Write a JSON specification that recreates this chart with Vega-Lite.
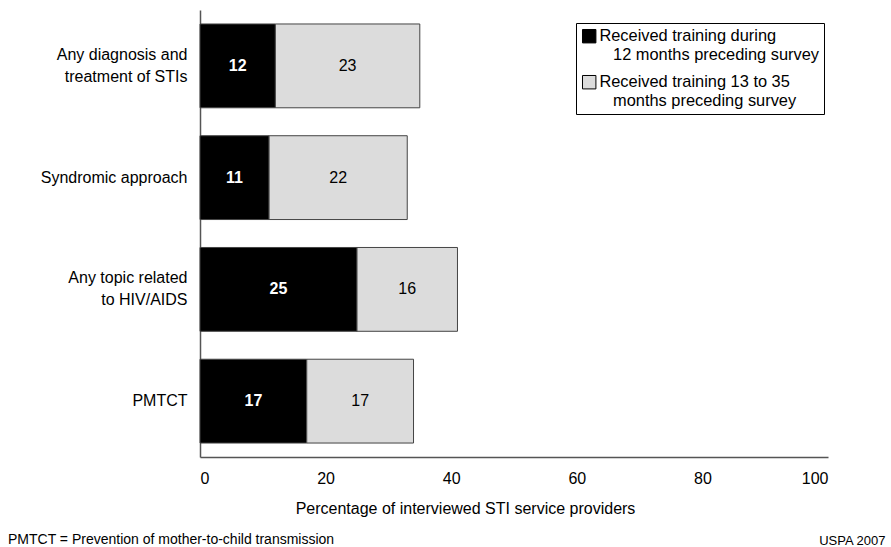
{
  "$schema": "https://vega.github.io/schema/vega-lite/v6.json",
  "width": 628,
  "height": 447,
  "autosize": {"type": "none"},
  "padding": {"left": 200, "top": 10, "right": 63, "bottom": 90},
  "background": "white",
  "config": {
    "font": "Liberation Sans",
    "view": {"stroke": null},
    "axis": {"labelFont": "Liberation Sans", "titleFont": "Liberation Sans", "labelColor": "#000", "titleColor": "#000", "labelFontSize": 16, "titleFontSize": 16, "titleFontWeight": "normal", "domainColor": "#555", "domainWidth": 1.5, "ticks": false, "grid": false}
  },
  "title": {
    "text": "PMTCT = Prevention of mother-to-child transmission",
    "orient": "bottom",
    "anchor": "start",
    "frame": "group",
    "dx": -192,
    "offset": -14,
    "fontSize": 14,
    "fontWeight": "normal",
    "font": "Liberation Sans",
    "color": "#000"
  },
  "data": {
    "values": [
      {"cat": "Any diagnosis and|treatment of STIs", "series": "Received training during|\u200b\u00a0\u00a0\u00a012 months preceding survey", "value": 12},
      {"cat": "Any diagnosis and|treatment of STIs", "series": "Received training 13 to 35|\u200b\u00a0\u00a0\u00a0months preceding survey", "value": 23},
      {"cat": "Syndromic approach", "series": "Received training during|\u200b\u00a0\u00a0\u00a012 months preceding survey", "value": 11},
      {"cat": "Syndromic approach", "series": "Received training 13 to 35|\u200b\u00a0\u00a0\u00a0months preceding survey", "value": 22},
      {"cat": "Any topic related|to HIV/AIDS", "series": "Received training during|\u200b\u00a0\u00a0\u00a012 months preceding survey", "value": 25},
      {"cat": "Any topic related|to HIV/AIDS", "series": "Received training 13 to 35|\u200b\u00a0\u00a0\u00a0months preceding survey", "value": 16},
      {"cat": "PMTCT", "series": "Received training during|\u200b\u00a0\u00a0\u00a012 months preceding survey", "value": 17},
      {"cat": "PMTCT", "series": "Received training 13 to 35|\u200b\u00a0\u00a0\u00a0months preceding survey", "value": 17}
    ]
  },
  "encoding": {
    "y": {
      "field": "cat",
      "type": "nominal",
      "sort": null,
      "scale": {"paddingInner": 0.25, "paddingOuter": 0.125},
      "axis": {
        "labelExpr": "split(datum.label, '|')",
        "labelPadding": 13,
        "labelLineHeight": 22,
        "labelLimit": 300,
        "labelOffset": {"condition": {"test": "indexof(datum.label, '|') >= 0", "value": -11}, "value": 0},
        "title": "USPA 2007",
        "titleAngle": 0,
        "titleX": 685,
        "titleY": 530,
        "titleAlign": "right",
        "titleBaseline": "middle",
        "titleFontSize": 13
      }
    }
  },
  "layer": [
    {
      "mark": {"type": "bar", "stroke": "#444", "strokeWidth": 1},
      "encoding": {
        "x": {
          "field": "value",
          "type": "quantitative",
          "stack": "zero",
          "scale": {"domain": [0, 100]},
          "axis": {
            "values": [0, 20, 40, 60, 80, 100],
            "labelPadding": 13,
            "title": "Percentage of interviewed STI service providers",
            "titleX": 265,
            "titleY": 51,
            "titleAlign": "center",
            "titleBaseline": "middle"
          }
        },
        "order": {"field": "series", "sort": "descending"},
        "color": {
          "field": "series",
          "type": "nominal",
          "scale": {
            "domain": ["Received training during|\u200b\u00a0\u00a0\u00a012 months preceding survey", "Received training 13 to 35|\u200b\u00a0\u00a0\u00a0months preceding survey"],
            "range": ["#000000", "#dcdcdc"]
          },
          "legend": {
            "title": null,
            "orient": "none",
            "legendX": 376,
            "legendY": 13,
            "direction": "vertical",
            "fillColor": "white",
            "strokeColor": "#000",
            "padding": 5,
            "rowPadding": 10,
            "labelExpr": "split(datum.label, '|')",
            "labelFont": "Liberation Sans",
            "labelFontSize": 16.4,
            "labelColor": "#000",
            "labelLimit": 400,
            "labelLineHeight": 21,
            "labelBaseline": "middle",
            "labelOffset": 2,
            "symbolType": "square",
            "symbolSize": 180,
            "symbolStrokeColor": "#000",
            "symbolStrokeWidth": 1
          }
        }
      }
    },
    {
      "transform": [
        {"stack": "value", "groupby": ["cat"], "sort": [{"field": "series", "order": "descending"}], "as": ["v0", "v1"]},
        {"calculate": "(datum.v0 + datum.v1) / 2", "as": "mid"},
        {"filter": "indexof(datum.series, 'during') >= 0"}
      ],
      "mark": {"type": "text", "font": "Liberation Sans", "fontSize": 16, "fontWeight": "bold", "color": "white", "baseline": "middle"},
      "encoding": {
        "x": {"field": "mid", "type": "quantitative"},
        "text": {"field": "value", "type": "quantitative"}
      }
    },
    {
      "transform": [
        {"stack": "value", "groupby": ["cat"], "sort": [{"field": "series", "order": "descending"}], "as": ["v0", "v1"]},
        {"calculate": "(datum.v0 + datum.v1) / 2", "as": "mid"},
        {"filter": "indexof(datum.series, 'during') < 0"}
      ],
      "mark": {"type": "text", "font": "Liberation Sans", "fontSize": 16, "color": "black", "baseline": "middle"},
      "encoding": {
        "x": {"field": "mid", "type": "quantitative"},
        "text": {"field": "value", "type": "quantitative"}
      }
    }
  ]
}
